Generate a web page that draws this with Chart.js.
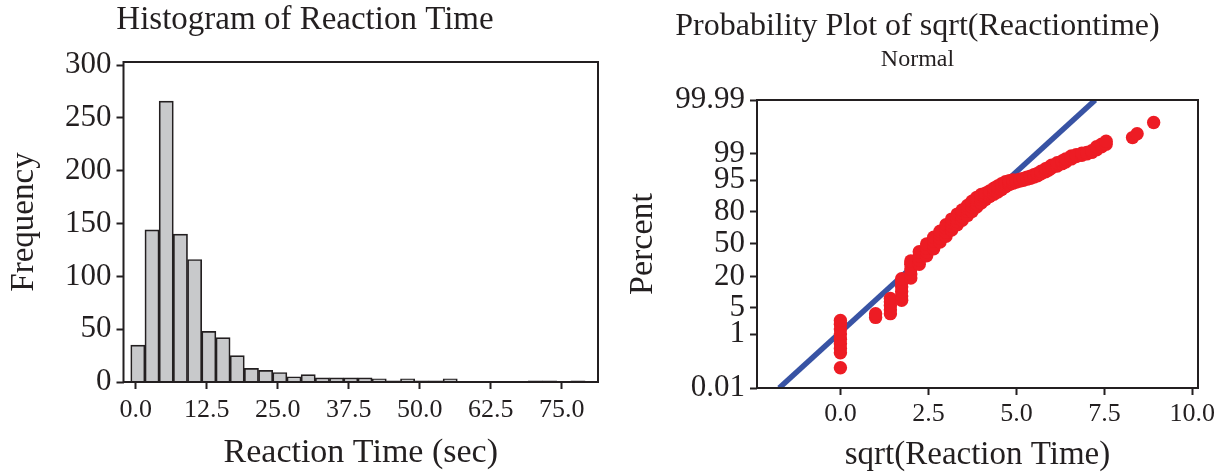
<!DOCTYPE html>
<html lang="en">
<head>
<meta charset="UTF-8">
<title>Reaction Time</title>
<script src="https://cdn.jsdelivr.net/npm/chart.js"></script>
<style>
  body { margin: 0; background: #fff; }
  #histWrap { position: absolute; left: 0; top: 0; width: 610px; height: 473px; }
  #probWrap { position: absolute; left: 620px; top: 0; width: 601px; height: 473px; }
</style>
</head>
<body>
<div id="histWrap"><canvas id="histChart"></canvas></div>
<div id="probWrap"><canvas id="probChart"></canvas></div>
<script>
// histogram: bin midpoints (sec) and counts
const binMids = [0.375, 2.875, 5.375, 7.875, 10.375, 12.875, 15.375, 17.875, 20.375, 22.875,
  25.375, 27.875, 30.375, 32.875, 35.375, 37.875, 40.375, 42.875, 45.375, 47.875,
  50.375, 52.875, 55.375, 57.875, 60.375, 62.875, 65.375, 67.875, 70.375, 72.875,
  75.375, 77.875, 80.375];
const binCounts = [35, 144, 266, 140, 116, 48, 42, 25, 13, 11,
  9, 5, 7, 4, 4, 4, 4, 3, 1, 3,
  1, 1, 3, 0, 0, 0, 0, 0, 1, 1,
  0, 1, 0];
const histXTicks = [0, 12.5, 25, 37.5, 50, 62.5, 75];
const histYTicks = [0, 50, 100, 150, 200, 250, 300];

// probability plot: sqrt(reaction time) against cumulative percent
const sqrtTimes = [
  0, 0, 0, 0, 0, 0, 0, 0, 0,
  1.0, 1.0,
  1.42, 1.42, 1.42, 1.42, 1.42,
  1.74, 1.74, 1.74, 1.74, 1.74, 1.74,
  2.0, 2.0, 2.0, 2.0, 2.0,
  2.24, 2.24, 2.24, 2.24,
  2.45, 2.45, 2.45, 2.45,
  2.65, 2.65, 2.65, 2.65,
  2.83, 2.83, 2.83, 2.83,
  3.0, 3.0, 3.0, 3.0,
  3.16, 3.16, 3.16, 3.16,
  3.32, 3.32, 3.32, 3.32,
  3.46, 3.46, 3.46, 3.46,
  3.61, 3.61, 3.61, 3.61,
  3.74, 3.74, 3.74, 3.74,
  3.87, 3.87, 3.87, 3.87,
  4.0, 4.0, 4.0, 4.0,
  4.12, 4.12, 4.12,
  4.24, 4.24, 4.24,
  4.36, 4.36, 4.36,
  4.47, 4.47, 4.47,
  4.58, 4.58, 4.58,
  4.69, 4.69, 4.69,
  4.8, 4.8, 4.8,
  4.9, 4.9, 4.9,
  5.0, 5.0, 5.1, 5.1, 5.2, 5.2, 5.3, 5.3, 5.4, 5.4,
  5.5, 5.5, 5.6, 5.6, 5.7, 5.7, 5.83, 5.83, 5.92, 5.92,
  6.0, 6.0, 6.16, 6.16, 6.3, 6.3, 6.4, 6.4, 6.56, 6.56,
  6.7, 6.7, 6.86, 6.86, 7.0, 7.0, 7.14, 7.14, 7.28, 7.28,
  7.42, 7.42, 7.55, 7.55,
  8.3, 8.43, 8.9
];
const percents = [
  0.07, 0.25, 0.35, 0.5, 0.7, 1.0, 1.4, 1.9, 2.4,
  2.9, 3.6,
  3.6, 4.5, 5.6, 6.8, 8.0,
  7.3, 9, 11, 13.5, 16, 18.5,
  19, 22, 26, 30, 33,
  30, 34, 38, 42,
  38, 42, 46, 50,
  45, 49, 53, 57,
  52, 56, 60, 63,
  58, 62, 66, 69,
  64, 68, 71, 74,
  69, 72, 75, 78,
  73, 76, 79, 81,
  77, 80, 82, 84,
  80, 83, 85, 86.5,
  83, 85, 87, 88.5,
  85.5, 87.5, 89, 90,
  87.5, 89, 90.5,
  89, 90.5, 91.5,
  90, 91.5, 92.5,
  91, 92.5, 93.3,
  92, 93.3, 94,
  93, 94, 94.6,
  93.8, 94.4, 94.9,
  94.2, 94.7, 95.1,
  94.5, 95.0, 94.8, 95.3, 95.0, 95.5, 95.3, 95.8, 95.5, 96.0,
  95.8, 96.3, 96.1, 96.6, 96.5, 97.0, 96.9, 97.4, 97.2, 97.6,
  97.5, 97.9, 97.8, 98.2, 98.1, 98.4, 98.3, 98.6, 98.6, 98.85,
  98.8, 98.95, 98.9, 99.05, 99.0, 99.1, 99.1, 99.2, 99.25, 99.4,
  99.4, 99.5, 99.5, 99.6,
  99.70, 99.78, 99.915
];
// fitted normal line (end points)
const fitX = [-1.74, 7.24];
const fitPct = [0.01, 99.99];
const pctTicks = [0.01, 1, 5, 20, 50, 80, 95, 99, 99.99];
const probXTicks = [0, 2.5, 5, 7.5, 10];

const ink = '#231f20';
const serif = "'Liberation Serif', 'Times New Roman', serif";

// inverse normal cdf (Acklam), percent -> z, used for the probability axis
function probit(pct) {
  const p = pct / 100;
  const a = [-39.69683028665376, 220.9460984245205, -275.9285104469687, 138.3577518672690, -30.66479806614716, 2.506628277459239];
  const b = [-54.47609879822406, 161.5858368580409, -155.6989798598866, 66.80131188771972, -13.28068155288572];
  const c = [-0.007784894002430293, -0.3223964580411365, -2.400758277161838, -2.549732539343734, 4.374664141464968, 2.938163982698783];
  const d = [0.007784695709041462, 0.3224671290700398, 2.445134137142996, 3.754408661907416];
  const pl = 0.02425;
  if (p < pl) {
    const q = Math.sqrt(-2 * Math.log(p));
    return (((((c[0]*q+c[1])*q+c[2])*q+c[3])*q+c[4])*q+c[5]) / ((((d[0]*q+d[1])*q+d[2])*q+d[3])*q+1);
  }
  if (p > 1 - pl) {
    const q = Math.sqrt(-2 * Math.log(1 - p));
    return -(((((c[0]*q+c[1])*q+c[2])*q+c[3])*q+c[4])*q+c[5]) / ((((d[0]*q+d[1])*q+d[2])*q+d[3])*q+1);
  }
  const q = p - 0.5, r = q * q;
  return (((((a[0]*r+a[1])*r+a[2])*r+a[3])*r+a[4])*r+a[5])*q / (((((b[0]*r+b[1])*r+b[2])*r+b[3])*r+b[4])*r+1);
}

// box round the plot area
const frame = {
  id: 'frame',
  afterDraw(chart) {
    const {ctx, chartArea: a} = chart;
    ctx.save();
    ctx.strokeStyle = ink;
    ctx.lineWidth = 2;
    ctx.strokeRect(a.left, a.top, a.right - a.left, a.bottom - a.top);
    ctx.restore();
  }
};

const tickGrid = { offset: false, drawOnChartArea: false, tickLength: 7, tickWidth: 2, tickColor: ink };

new Chart(document.getElementById('histChart'), {
  type: 'bar',
  data: {
    datasets: [{
      data: binMids.map((x, i) => ({ x: x, y: binCounts[i] })),
      backgroundColor: '#c8c9cb',
      borderColor: ink,
      borderWidth: 1.7,
      barPercentage: 1,
      categoryPercentage: 1
    }]
  },
  options: {
    responsive: true,
    maintainAspectRatio: false,
    animation: false,
    layout: { padding: { left: 12, right: 12, top: 0, bottom: 0 } },
    plugins: {
      legend: { display: false },
      tooltip: { enabled: false },
      title: {
        display: true, text: 'Histogram of Reaction Time', color: ink,
        font: { family: serif, size: 33, weight: 'normal' },
        padding: { top: 0.3, bottom: 22.1 }
      }
    },
    scales: {
      x: {
        type: 'linear', min: -2.15, max: 81.4, offset: false,
        afterBuildTicks: s => { s.ticks = histXTicks.map(v => ({ value: v })); },
        afterFit: s => { s.height = 91; },
        grid: tickGrid,
        border: { display: false },
        ticks: { color: ink, font: { family: serif, size: 26 }, padding: 6, maxRotation: 0, autoSkip: false,
          callback: v => v.toFixed(1) },
        title: { display: true, text: 'Reaction Time (sec)', color: ink,
          font: { family: serif, size: 34 }, padding: { top: 0, bottom: 0 } }
      },
      y: {
        min: 0, max: 303,
        afterBuildTicks: s => { s.ticks = histYTicks.map(v => ({ value: v })); },
        afterFit: s => { s.width = 111.5; },
        grid: tickGrid,
        border: { display: false },
        ticks: { color: ink, font: { family: serif, size: 31 }, padding: 5 },
        title: { display: true, text: 'Frequency', color: ink,
          font: { family: serif, size: 33, lineHeight: 1 }, padding: { top: -4.5, bottom: 0 } }
      }
    }
  },
  plugins: [frame]
});

new Chart(document.getElementById('probChart'), {
  type: 'scatter',
  data: {
    datasets: [{
      data: sqrtTimes.map((x, i) => ({ x: x, y: probit(percents[i]) })),
      backgroundColor: '#ed1c24',
      borderWidth: 0,
      pointRadius: 6.7,
      order: 0
    }, {
      type: 'line',
      data: fitX.map((x, i) => ({ x: x, y: probit(fitPct[i]) })),
      borderColor: '#3853a4',
      borderWidth: 5.5,
      pointRadius: 0,
      order: 1
    }]
  },
  options: {
    responsive: true,
    maintainAspectRatio: false,
    animation: false,
    layout: { padding: { left: 17, right: 23, top: 0, bottom: 0 } },
    plugins: {
      legend: { display: false },
      tooltip: { enabled: false },
      title: {
        display: true, text: 'Probability Plot of sqrt(Reactiontime)', color: ink,
        font: { family: serif, size: 32, weight: 'normal' },
        padding: { top: 7.2, bottom: 0 }
      },
      subtitle: {
        display: true, text: 'Normal', color: ink,
        font: { family: serif, size: 24, weight: 'normal' },
        padding: { top: 0.2, bottom: 25.4 }
      }
    },
    scales: {
      x: {
        type: 'linear', min: -2.37, max: 10.16,
        afterBuildTicks: s => { s.ticks = probXTicks.map(v => ({ value: v })); },
        afterFit: s => { s.height = 85; },
        grid: tickGrid,
        border: { display: false },
        ticks: { color: ink, font: { family: serif, size: 26 }, padding: 3.5, maxRotation: 0, autoSkip: false,
          callback: v => v.toFixed(1) },
        title: { display: true, text: 'sqrt(Reaction Time)', color: ink,
          font: { family: serif, size: 33 }, padding: { top: 0, bottom: -2 } }
      },
      y: {
        min: probit(pctTicks[0]), max: probit(pctTicks[pctTicks.length - 1]),
        afterBuildTicks: s => { s.ticks = pctTicks.map(p => ({ value: probit(p) })); },
        afterFit: s => { s.width = 120; },
        grid: tickGrid,
        border: { display: false },
        ticks: { color: ink, font: { family: serif, size: 31 }, padding: 5, autoSkip: false,
          callback: (v, i) => String(pctTicks[i]) },
        title: { display: true, text: 'Percent', color: ink,
          font: { family: serif, size: 34, lineHeight: 1 }, padding: { top: -11, bottom: 0 } }
      }
    }
  },
  plugins: [frame]
});
</script>
</body>
</html>
